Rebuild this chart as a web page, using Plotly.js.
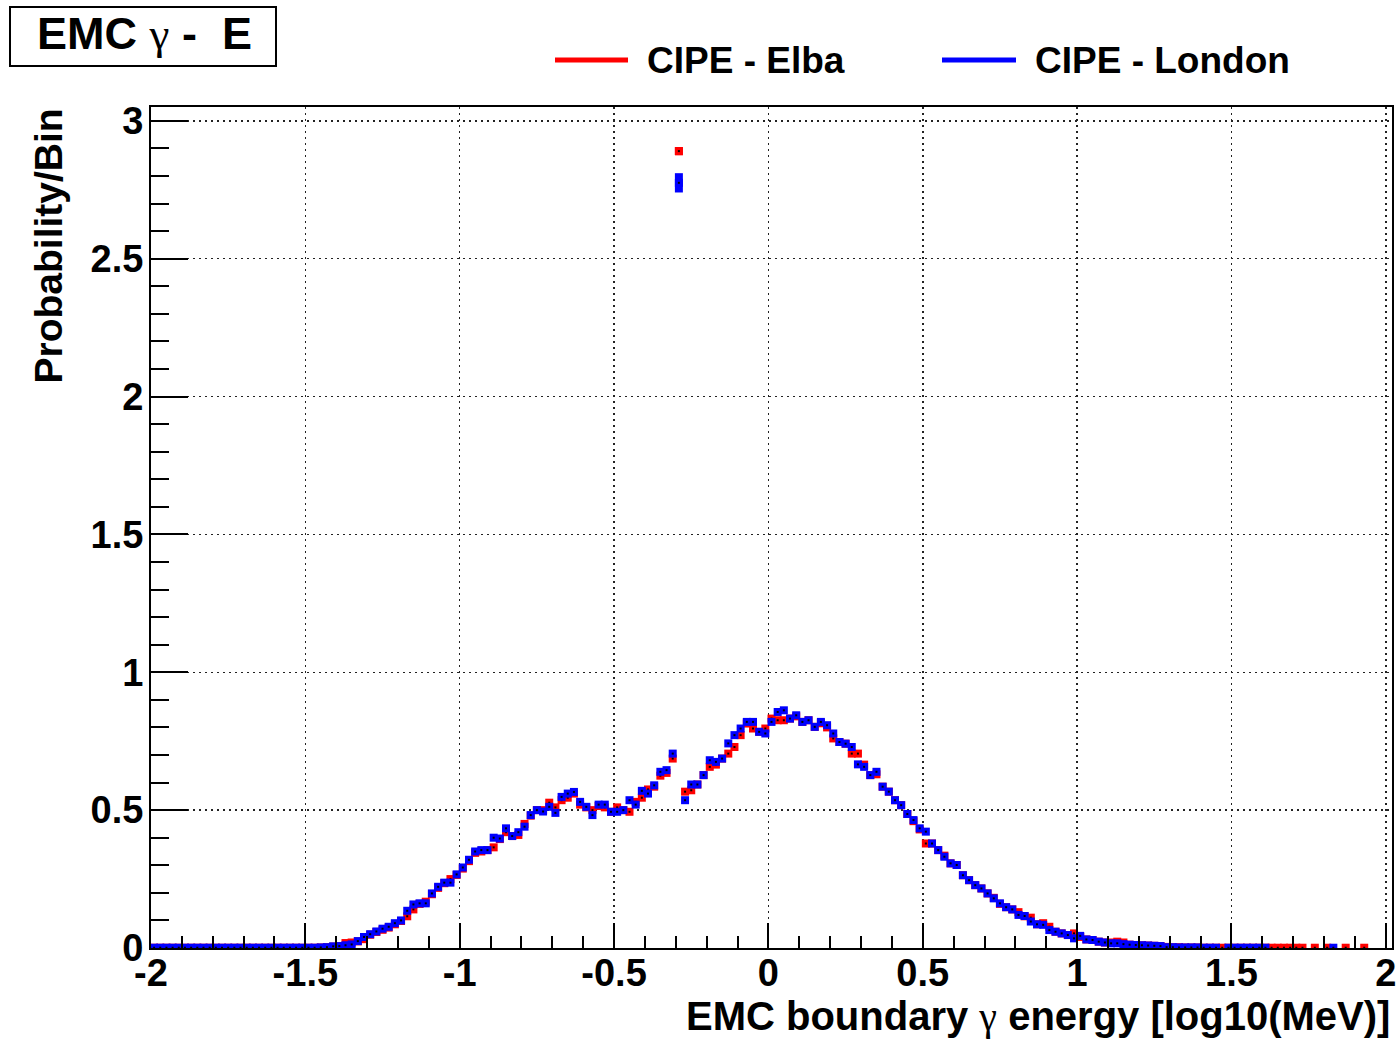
<!DOCTYPE html>
<html>
<head>
<meta charset="utf-8">
<script src="https://cdn.plot.ly/plotly-3.0.1.min.js"></script>
<style>html,body{margin:0;padding:0;background:#fff;}</style>
</head>
<body>
<div id="chart" style="width:1398px;height:1042px;"></div>
<script>
// Histogram binning: 200 bins of width 0.02 from -2 to 2
const binLow = -2;
const binWidth = 0.02;

// CIPE - Elba (red), one value per bin, null = empty bin
const yElba = [
  0.001,0.001,0.001,0.001,0.001,0.001,0.001,0.001,0.001,0.001,
  0.001,0.001,0.001,0.001,0.001,0.001,0.001,0.001,0.001,0.001,
  0.001,0.001,0.001,0.001,0.001,0.001,0.001,0.002,0.003,0.005,
  0.007,0.018,0.020,0.024,0.032,0.048,0.058,0.066,0.074,0.086,
  0.098,0.115,0.140,0.160,0.168,0.195,0.218,0.235,0.250,0.265,
  0.288,0.315,0.345,0.350,0.355,0.365,0.395,0.420,0.406,0.410,
  0.450,0.480,0.500,0.500,0.527,0.510,0.536,0.545,0.560,0.520,
  0.510,0.500,0.515,0.510,0.494,0.510,0.500,0.494,0.530,0.545,
  0.575,0.585,0.625,0.635,0.687,2.890,0.567,0.572,0.593,0.627,
  0.657,0.665,0.687,0.705,0.729,0.772,0.814,0.796,0.784,0.796,
  0.832,0.826,0.826,0.832,0.840,0.820,0.826,0.802,0.815,0.800,
  0.760,0.747,0.741,0.705,0.705,0.665,0.627,0.630,0.585,0.567,
  0.536,0.518,0.486,0.460,0.430,0.379,0.379,0.355,0.335,0.307,
  0.301,0.264,0.246,0.228,0.216,0.198,0.182,0.160,0.148,0.140,
  0.130,0.115,0.110,0.086,0.090,0.077,0.059,0.053,0.047,0.053,
  0.040,0.031,0.029,0.023,0.020,0.020,0.023,0.020,0.012,0.011,
  0.010,0.009,0.008,0.007,0.004,0.003,0.003,0.002,0.002,0.002,
  0.001,0.001,0.001,0.001,0.001,0.001,0.001,0.001,0.001,0.001,
  0.001,0.001,0.001,0.001,0.001,0.001,0.001,null,0.001,null,
  0.001,null,null,0.001,null,null,0.001,null,null,null
];

// CIPE - London (blue)
const yLondon = [
  0.001,0.001,0.001,0.001,0.001,0.001,0.001,0.001,0.001,0.001,
  0.001,0.001,0.001,0.001,0.001,0.001,0.001,0.001,0.001,0.001,
  0.001,0.001,0.001,0.001,0.001,0.001,0.001,0.002,0.003,0.006,
  0.007,0.010,0.013,0.025,0.040,0.050,0.060,0.070,0.077,0.090,
  0.100,0.135,0.158,0.162,0.162,0.198,0.222,0.237,0.237,0.267,
  0.292,0.320,0.350,0.355,0.355,0.400,0.397,0.434,0.406,0.420,
  0.440,0.482,0.500,0.495,0.512,0.490,0.548,0.560,0.566,0.530,
  0.512,0.482,0.520,0.520,0.494,0.494,0.500,0.536,0.520,0.570,
  0.560,0.590,0.639,0.645,0.705,2.775,0.536,0.593,0.593,0.627,
  0.681,0.675,0.687,0.742,0.772,0.796,0.820,0.820,0.784,0.778,
  0.820,0.856,0.862,0.832,0.844,0.820,0.826,0.802,0.820,0.808,
  0.778,0.747,0.741,0.729,0.666,0.657,0.627,0.639,0.585,0.567,
  0.536,0.518,0.486,0.464,0.434,0.422,0.379,0.355,0.331,0.307,
  0.301,0.264,0.246,0.228,0.216,0.198,0.180,0.162,0.148,0.140,
  0.120,0.116,0.096,0.086,0.084,0.065,0.059,0.053,0.047,0.035,
  0.044,0.031,0.029,0.023,0.020,0.017,0.017,0.014,0.012,0.011,
  0.010,0.009,0.008,0.007,0.003,0.003,0.002,0.002,0.002,0.002,
  0.001,0.001,0.001,null,0.001,0.001,0.001,0.001,0.001,0.001,
  0.001,null,null,null,null,null,null,null,null,null,
  null,0.001,null,null,null,null,null,null,null,null
];

// statistical error bars that are visible (the spike bin)
const spikeBin = -0.29;
const spikeErrElba = 0.015;
const spikeErrLondon = 0.035;

const seriesNames = ['CIPE - Elba', 'CIPE - London'];
const seriesColors = ['#ff0000', '#0000ff'];

const GAMMA = '<span style="font-family:\'Liberation Serif\',serif;font-weight:normal">\u03b3</span>';
const chartTitle = 'EMC ' + GAMMA + ' -  E';
const xTitle = 'EMC boundary ' + GAMMA + ' energy [log10(MeV)]';
const yTitle = 'Probability/Bin';

const xTickVals = [-2, -1.5, -1, -0.5, 0, 0.5, 1, 1.5, 2];
const xTickText = ['-2', '-1.5', '-1', '-0.5', '0', '0.5', '1', '1.5', '2'];
const yTickVals = [0, 0.5, 1, 1.5, 2, 2.5, 3];
const yTickText = ['0', '0.5', '1', '1.5', '2', '2.5', '3'];

// ---------------------------------------------------------------
const binCenters = yElba.map((_, i) => +(binLow + binWidth * (i + 0.5)).toFixed(2));
const errFor = (e) => binCenters.map(c => Math.abs(c - spikeBin) < 1e-6 ? e : 0);

const FONT = '"Liberation Sans", Arial, Helvetica, sans-serif';
const W = 1398, H = 1042;
const L = 151, R = 1392, T = 107, B = 948;
const px = v => (v - L) / (R - L);
const py = v => (B - v) / (B - T);

function histTraces(y, err, color, name) {
  return [
    {
      type: 'scatter', mode: 'markers', name: name, x: binCenters, y: y,
      marker: {symbol: 'square', size: 8, color: color, line: {width: 0}},
      error_y: {type: 'data', array: err, visible: true, color: color, thickness: 8, width: 0},
      showlegend: false, hoverinfo: 'x+y'
    },
    {
      type: 'scatter', mode: 'markers', x: binCenters, y: y,
      marker: {symbol: 'square', size: 2, color: '#000000', line: {width: 0}},
      showlegend: false, hoverinfo: 'skip'
    }
  ];
}

const data = [
  ...histTraces(yElba, errFor(spikeErrElba), seriesColors[0], seriesNames[0]),
  ...histTraces(yLondon, errFor(spikeErrLondon), seriesColors[1], seriesNames[1])
];

const axisCommon = {
  showline: true, linecolor: '#000', linewidth: 2, mirror: true,
  showgrid: true, gridcolor: '#222', gridwidth: 1.5, griddash: '2px,4px',
  zeroline: false, ticks: 'inside', tickcolor: '#000', tickwidth: 2,
  tickfont: {family: FONT, size: 38, color: '#000', weight: 'bold'},
  tickmode: 'array'
};

const layout = {
  width: W, height: H,
  margin: {l: L, r: W - R, t: T, b: H - B, pad: 0},
  paper_bgcolor: '#fff', plot_bgcolor: '#fff',
  showlegend: false,
  xaxis: Object.assign({}, axisCommon, {
    range: [-2, 2.02], tickvals: xTickVals, ticktext: xTickText,
    ticklen: 25, ticklabelstandoff: -10,
    minor: {dtick: 0.1, ticklen: 12, ticks: 'inside', tickcolor: '#000', tickwidth: 2, showgrid: false}
  }),
  yaxis: Object.assign({}, axisCommon, {
    range: [0, 3.05], tickvals: yTickVals, ticktext: yTickText,
    ticklen: 37, ticklabelstandoff: -2,
    minor: {dtick: 0.1, ticklen: 18, ticks: 'inside', tickcolor: '#000', tickwidth: 2, showgrid: false}
  }),
  shapes: [
    {type: 'rect', xref: 'paper', yref: 'paper', x0: px(10), x1: px(276), y0: py(66), y1: py(7),
     line: {color: '#000', width: 2}, fillcolor: '#fff', layer: 'above'},
    {type: 'line', xref: 'paper', yref: 'paper', x0: px(555), x1: px(628), y0: py(60), y1: py(60),
     line: {color: seriesColors[0], width: 5}},
    {type: 'line', xref: 'paper', yref: 'paper', x0: px(942), x1: px(1016), y0: py(60), y1: py(60),
     line: {color: seriesColors[1], width: 5}}
  ],
  annotations: [
    {xref: 'paper', yref: 'paper', x: px(144), y: py(34), xanchor: 'center', yanchor: 'middle',
     text: chartTitle, showarrow: false, font: {family: FONT, size: 45, color: '#000', weight: 'bold'}},
    {xref: 'paper', yref: 'paper', x: px(645), y: py(60), xanchor: 'left', yanchor: 'middle',
     text: seriesNames[0], showarrow: false, font: {family: FONT, size: 37, color: '#000', weight: 'bold'}},
    {xref: 'paper', yref: 'paper', x: px(1033), y: py(60), xanchor: 'left', yanchor: 'middle',
     text: seriesNames[1], showarrow: false, font: {family: FONT, size: 37, color: '#000', weight: 'bold'}},
    {xref: 'paper', yref: 'paper', x: 1, y: py(1017), xanchor: 'right', yanchor: 'middle',
     text: xTitle, showarrow: false, font: {family: FONT, size: 40, color: '#000', weight: 'bold'}},
    {xref: 'paper', yref: 'paper', x: px(48), y: 1, xanchor: 'center', yanchor: 'top', textangle: -90,
     text: yTitle, showarrow: false, font: {family: FONT, size: 39, color: '#000', weight: 'bold'}}
  ]
};

Plotly.newPlot('chart', data, layout, {displayModeBar: false, staticPlot: true});
</script>
</body>
</html>
